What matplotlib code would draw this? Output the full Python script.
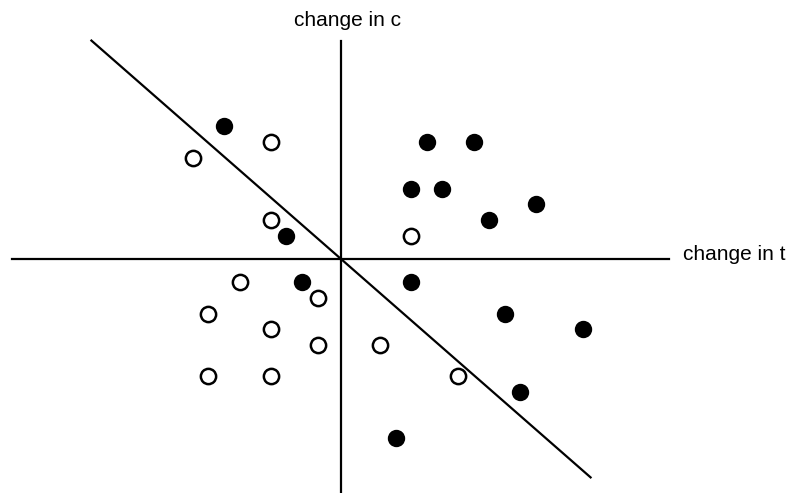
import matplotlib
matplotlib.use("Agg")
import matplotlib.pyplot as plt

# observations: (change in t, change in c)
filled_t = [-7.5, 5.5, 8.5, 4.5, 6.5, 9.5, 12.5, -3.5, -2.5, 4.5, 10.5, 15.5, 11.5, 3.5]
filled_c = [8.5, 7.5, 7.5, 4.5, 4.5, 2.5, 3.5, 1.5, -1.5, -1.5, -3.5, -4.5, -8.5, -11.5]

open_t = [-9.5, -4.5, -4.5, 4.5, -6.5, -1.5, -8.5, -4.5, -1.5, 2.5, -8.5, -4.5, 7.5]
open_c = [6.5, 7.5, 2.5, 1.5, -1.5, -2.5, -3.5, -4.5, -5.5, -5.5, -7.5, -7.5, -7.5]

# separating line endpoints
sep_t = [-16, 16]
sep_c = [14, -14]

plt.rcParams["font.family"] = ["Liberation Sans", "DejaVu Sans"]

fig = plt.figure(figsize=(7.87, 4.93), dpi=100)
ax = fig.add_axes([0, 0, 1, 1])
ax.set_xlim(-21.86, 28.59)
ax.set_ylim(-15.0, 16.6)
ax.axis("off")

lw = 1.6
ax.plot([-21.1, 21.0], [0, 0], color="black", lw=lw)
ax.plot([0, 0], [-15.2, 14.0], color="black", lw=lw)
ax.plot(sep_t, sep_c, color="black", lw=lw)

ax.plot(filled_t, filled_c, "o", ms=11, mfc="black", mec="black", mew=1.5)
ax.plot(open_t, open_c, "o", ms=11, mfc="white", mec="black", mew=1.8)

ax.text(0.4, 15.3, "change in c", ha="center", va="center", fontsize=15)
ax.text(21.9, 0.3, "change in t", ha="left", va="center", fontsize=15)

fig.savefig("out.png", dpi=100)
